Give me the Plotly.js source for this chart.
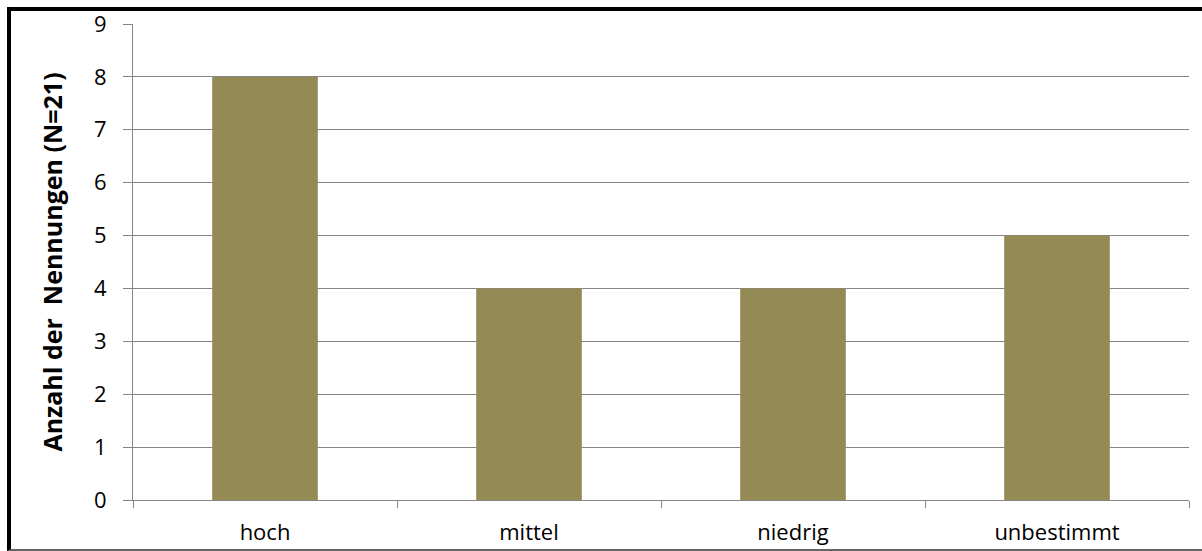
<!DOCTYPE html>
<html>
<head>
<meta charset="utf-8">
<script src="https://cdn.plot.ly/plotly-3.0.1.min.js"></script>
<style>
  html, body { margin: 0; padding: 0; background: #fff; overflow: hidden; }
  #chart { position: absolute; left: 0; top: 0; width: 1202px; height: 551px; }
  #frame { position: absolute; left: 7px; top: 7px; width: 1300px; height: 538px;
           border-top: 4px solid #000; border-left: 4px solid #000; border-bottom: 2px solid #666;
           pointer-events: none; }
</style>
</head>
<body>
<div id="chart"></div>
<div id="frame"></div>
<script>
const categories = ["hoch", "mittel", "niedrig", "unbestimmt"];
const counts = [8, 4, 4, 5];
const yTickValues = [0, 1, 2, 3, 4, 5, 6, 7, 8, 9];
const yTitle = "Anzahl der  Nennungen (N=21)";

const data = [{
  type: "bar",
  x: categories,
  y: counts,
  marker: { color: "#948A54", line: { width: 0 } },
  hoverinfo: "x+y"
}];

const layout = {
  width: 1202,
  height: 551,
  margin: { l: 133, r: 13, t: 24, b: 51, pad: 0 },
  paper_bgcolor: "#fff",
  plot_bgcolor: "#fff",
  bargap: 0.6,
  showlegend: false,
  font: { family: "Open Sans, sans-serif", size: 22, color: "#000" },
  xaxis: {
    type: "category",
    showgrid: false,
    showline: true,
    linecolor: "#868686",
    linewidth: 1,
    ticks: "outside",
    tickson: "boundaries",
    ticklen: 7,
    tickcolor: "#868686",
    ticklabelstandoff: 13,
    tickfont: { family: "Open Sans, sans-serif", size: 22, color: "#000" },
    zeroline: false
  },
  yaxis: {
    range: [0, 9],
    tickvals: yTickValues,
    ticktext: yTickValues.map(String),
    showgrid: true,
    gridcolor: "#868686",
    gridwidth: 1,
    showline: true,
    linecolor: "#868686",
    linewidth: 1,
    ticks: "outside",
    ticklen: 9,
    tickcolor: "#868686",
    ticklabelstandoff: 12,
    zeroline: false,
    tickfont: { family: "Open Sans, sans-serif", size: 22, color: "#000" },
    title: { text: yTitle, font: { family: "Open Sans, sans-serif", size: 25, color: "#000", weight: "bold" }, standoff: 24 }
  }
};

Plotly.newPlot("chart", data, layout, { displayModeBar: false, staticPlot: true });
</script>
</body>
</html>
